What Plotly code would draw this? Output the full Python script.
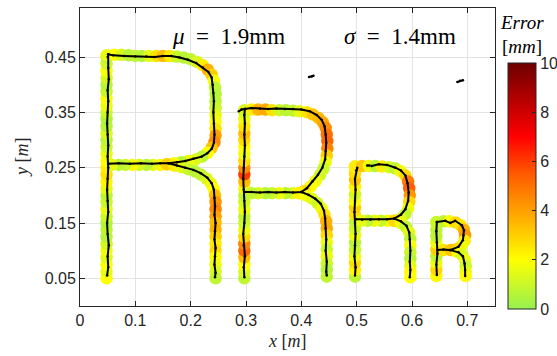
import plotly.graph_objects as go

# ---------------- colour scale (tracking error, mm) ----------------
ERR_RANGE = [0, 10]
CBAR_TICKS = [0, 2, 4, 6, 8, 10]
COLORSCALE = [[0.0, '#96F050'], [0.2, '#FFFF00'], [0.4, '#FFA000'],
              [0.55, '#FF5A00'], [0.7, '#FF0000'], [1.0, '#6E0000']]

# ---------------- axes ----------------
X_TICKS = [0, 0.1, 0.2, 0.3, 0.4, 0.5, 0.6, 0.7]
X_TICKTEXT = ['0', '0.1', '0.2', '0.3', '0.4', '0.5', '0.6', '0.7']
Y_TICKS = [0.05, 0.15, 0.25, 0.35, 0.45]
Y_TICKTEXT = ['0.05', '0.15', '0.25', '0.35', '0.45']

MU_TEXT = '<i>μ</i>\u2002=\u20021.9mm'
SIGMA_TEXT = '<i>σ</i>\u2002=\u20021.4mm'

# ---------------- reference path (ribbon) with error values ----------------
# Letter 1 (big R)
r1_stem_x = 0.048
r1_stem_y = [0.05, 0.062, 0.075, 0.088, 0.10, 0.112, 0.125, 0.138, 0.15, 0.162, 0.175, 0.188, 0.20,
             0.212, 0.225, 0.238, 0.25, 0.262, 0.275, 0.288, 0.30, 0.312, 0.325, 0.338, 0.35, 0.362,
             0.375, 0.388, 0.40, 0.412, 0.425, 0.438, 0.45]
r1_stem_err = [2.0, 1.6, 2.0, 1.4, 1.8, 1.2, 0.6, 0.8, 0.5, 1.0, 1.6, 1.0, 0.7, 1.5, 2.2, 2.6, 2.4,
               2.0, 1.6, 1.1, 0.8, 1.3, 0.6, 0.5, 1.0, 1.7, 1.9, 1.0, 0.6, 1.2, 1.9, 1.1, 0.7]

r1_bowl_x = [0.048, 0.062, 0.075, 0.088, 0.100, 0.112, 0.125, 0.138, 0.150, 0.162, 0.175, 0.188,
             0.200, 0.212, 0.222, 0.231, 0.238, 0.242, 0.244, 0.245, 0.245, 0.245, 0.245, 0.245,
             0.245, 0.245, 0.243, 0.238, 0.231, 0.221, 0.209, 0.196, 0.183, 0.170, 0.157, 0.145,
             0.132, 0.120, 0.107, 0.095, 0.082, 0.070, 0.058]
r1_bowl_y = [0.453, 0.454, 0.454, 0.453, 0.452, 0.452, 0.452, 0.452, 0.452, 0.452, 0.451, 0.449,
             0.446, 0.441, 0.435, 0.427, 0.418, 0.407, 0.395, 0.383, 0.370, 0.358, 0.345, 0.333,
             0.320, 0.308, 0.296, 0.286, 0.277, 0.270, 0.265, 0.262, 0.260, 0.258, 0.256, 0.255,
             0.255, 0.255, 0.255, 0.255, 0.255, 0.255, 0.255]
r1_bowl_err = [1.6, 2.0, 1.3, 0.6, 0.8, 0.6, 1.5, 2.6, 3.4, 2.4, 1.0, 0.6, 0.8, 1.3, 2.4, 3.6, 3.0,
               1.8, 0.8, 0.6, 0.7, 1.0, 1.5, 1.9, 2.6, 4.0, 4.5, 3.2, 2.0, 0.8, 1.3, 1.7, 0.7, 1.8,
               3.0, 2.2, 1.5, 0.7, 1.2, 1.9, 1.0, 0.7, 1.5]

r1_leg_x = [0.157, 0.170, 0.183, 0.196, 0.208, 0.219, 0.229, 0.237, 0.242, 0.244, 0.245, 0.245,
            0.245, 0.245, 0.245, 0.245, 0.245, 0.245, 0.245, 0.245, 0.245, 0.245]
r1_leg_y = [0.256, 0.254, 0.251, 0.247, 0.243, 0.237, 0.230, 0.221, 0.211, 0.200, 0.188, 0.175,
            0.162, 0.150, 0.138, 0.125, 0.112, 0.100, 0.088, 0.075, 0.062, 0.050]
r1_leg_err = [3.0, 2.4, 1.5, 1.0, 0.6, 0.8, 1.3, 1.7, 2.0, 3.4, 4.2, 4.6, 4.0, 3.4, 3.6, 3.0, 2.4,
              2.8, 2.0, 1.7, 1.3, 0.8]

# Letter 2
r2_stem_x = 0.297
r2_stem_y = [0.05, 0.062, 0.075, 0.088, 0.10, 0.112, 0.125, 0.138, 0.15, 0.162, 0.175, 0.188, 0.20,
             0.212, 0.225, 0.238, 0.25, 0.262, 0.275, 0.288, 0.30, 0.312, 0.325, 0.338, 0.35]
r2_stem_err = [0.8, 1.3, 2.0, 3.4, 5.2, 4.6, 2.8, 1.7, 1.1, 0.8, 1.7, 1.2, 0.8, 1.7, 3.4, 6.0, 4.4,
               2.7, 1.7, 2.0, 2.7, 3.4, 2.5, 1.7, 1.2]

r2_bowl_x = [0.297, 0.310, 0.322, 0.335, 0.347, 0.360, 0.372, 0.385, 0.397, 0.410, 0.421, 0.431,
             0.439, 0.444, 0.446, 0.447, 0.447, 0.446, 0.444, 0.440, 0.434, 0.426, 0.417, 0.406,
             0.396, 0.384, 0.372, 0.360, 0.347, 0.335, 0.322, 0.310]
r2_bowl_y = [0.354, 0.355, 0.355, 0.355, 0.354, 0.354, 0.354, 0.353, 0.352, 0.350, 0.346, 0.340,
             0.332, 0.322, 0.310, 0.298, 0.285, 0.272, 0.260, 0.248, 0.237, 0.226, 0.216, 0.208,
             0.204, 0.204, 0.204, 0.204, 0.204, 0.204, 0.204, 0.204]
r2_bowl_err = [1.2, 2.4, 3.6, 3.8, 2.6, 1.1, 0.7, 0.8, 1.5, 2.6, 3.2, 3.4, 3.8, 4.4, 5.0, 5.2, 4.6,
               3.0, 1.7, 1.0, 1.1, 1.7, 2.0, 2.7, 2.3, 1.5, 0.8, 1.7, 1.0, 0.6, 1.3, 0.8]

r2_leg_x = [0.396, 0.408, 0.419, 0.429, 0.437, 0.442, 0.445, 0.446, 0.446, 0.446, 0.446, 0.446,
            0.446, 0.446, 0.446]
r2_leg_y = [0.204, 0.200, 0.194, 0.186, 0.176, 0.165, 0.153, 0.140, 0.128, 0.115, 0.102, 0.090,
            0.077, 0.065, 0.053]
r2_leg_err = [2.3, 1.9, 1.5, 1.1, 1.7, 2.6, 3.6, 3.8, 2.8, 1.7, 1.0, 1.7, 1.1, 0.6, 0.8]

# Letter 3
r3_stem_x = 0.497
r3_stem_y = [0.053, 0.065, 0.078, 0.090, 0.102, 0.115, 0.128, 0.140, 0.152, 0.165, 0.178, 0.190,
             0.202, 0.215, 0.228, 0.240, 0.252]
r3_stem_err = [0.8, 2.2, 2.7, 1.7, 1.0, 0.7, 1.7, 1.1, 0.8, 2.6, 3.0, 1.9, 1.2, 2.2, 3.2, 2.7, 2.4]

r3_bowl_x = [0.497, 0.510, 0.522, 0.534, 0.546, 0.558, 0.569, 0.579, 0.588, 0.593, 0.595, 0.596,
             0.595, 0.593, 0.588, 0.580, 0.568, 0.556, 0.544, 0.532, 0.520, 0.508]
r3_bowl_y = [0.252, 0.253, 0.253, 0.253, 0.252, 0.251, 0.249, 0.244, 0.236, 0.225, 0.213, 0.200,
             0.188, 0.176, 0.166, 0.158, 0.154, 0.154, 0.154, 0.154, 0.154, 0.154]
r3_bowl_err = [2.4, 3.2, 1.7, 0.7, 2.4, 1.3, 0.8, 1.7, 2.8, 4.8, 5.4, 4.2, 2.8, 1.7, 0.8, 1.3, 2.8,
               2.1, 1.0, 1.7, 0.8, 1.5]

r3_leg_x = [0.568, 0.580, 0.589, 0.595, 0.597, 0.597, 0.597, 0.597, 0.597, 0.597, 0.597]
r3_leg_y = [0.154, 0.150, 0.143, 0.133, 0.121, 0.109, 0.097, 0.085, 0.073, 0.062, 0.052]
r3_leg_err = [2.8, 1.7, 0.8, 1.5, 0.8, 1.9, 1.0, 0.6, 1.5, 2.1, 2.0]

# Letter 4 (small R)
r4_stem_x = 0.644
r4_stem_y = [0.054, 0.066, 0.078, 0.090, 0.102, 0.114, 0.126, 0.138, 0.150]
r4_stem_err = [2.1, 2.8, 1.7, 0.8, 3.0, 1.7, 0.8, 0.7, 1.0]

r4_bowl_x = [0.644, 0.657, 0.668, 0.679, 0.688, 0.694, 0.696, 0.695, 0.690, 0.681, 0.670, 0.657]
r4_bowl_y = [0.152, 0.153, 0.153, 0.151, 0.146, 0.138, 0.128, 0.118, 0.109, 0.103, 0.101, 0.101]
r4_bowl_err = [1.0, 0.8, 1.9, 2.8, 2.4, 3.6, 4.2, 2.4, 1.7, 2.8, 3.2, 2.6]

r4_leg_x = [0.670, 0.682, 0.691, 0.696, 0.697, 0.697, 0.697]
r4_leg_y = [0.101, 0.098, 0.092, 0.083, 0.072, 0.062, 0.054]
r4_leg_err = [3.2, 1.9, 1.3, 1.7, 1.0, 1.5, 2.1]

# ---------------- measured trajectory (black) ----------------
t1_stem_x = [0.049, 0.051, 0.050, 0.052, 0.050, 0.049, 0.051, 0.050, 0.049, 0.050, 0.051, 0.050,
             0.051, 0.050, 0.049, 0.050, 0.051, 0.050, 0.052, 0.051, 0.050, 0.051]
t1_stem_y = [0.055, 0.07, 0.09, 0.11, 0.13, 0.15, 0.17, 0.19, 0.21, 0.23, 0.25, 0.27, 0.29, 0.31,
             0.33, 0.35, 0.37, 0.39, 0.41, 0.43, 0.45, 0.455]
t1_bowl_x = [0.051, 0.06, 0.08, 0.10, 0.12, 0.135, 0.15, 0.165, 0.18, 0.195, 0.21, 0.222, 0.232,
             0.238, 0.240, 0.241, 0.242, 0.241, 0.242, 0.243, 0.242, 0.238, 0.230, 0.220, 0.205,
             0.190, 0.175, 0.16, 0.145, 0.13, 0.11, 0.09, 0.07, 0.052]
t1_bowl_y = [0.455, 0.453, 0.452, 0.451, 0.451, 0.450, 0.452, 0.452, 0.449, 0.445, 0.439, 0.431,
             0.423, 0.413, 0.40, 0.385, 0.37, 0.35, 0.33, 0.31, 0.295, 0.284, 0.276, 0.27, 0.266,
             0.262, 0.26, 0.258, 0.258, 0.257, 0.258, 0.257, 0.258, 0.257]
t1_leg_x = [0.16, 0.175, 0.19, 0.205, 0.218, 0.23, 0.238, 0.242, 0.243, 0.244, 0.243, 0.245, 0.244,
            0.243, 0.245, 0.244, 0.243, 0.245, 0.244]
t1_leg_y = [0.258, 0.254, 0.25, 0.246, 0.24, 0.232, 0.222, 0.21, 0.195, 0.18, 0.165, 0.15, 0.135,
            0.12, 0.105, 0.09, 0.075, 0.06, 0.052]

t2_stem_x = [0.297, 0.296, 0.298, 0.296, 0.295, 0.297, 0.298, 0.297, 0.296, 0.295, 0.296, 0.297,
             0.298, 0.297, 0.298, 0.297, 0.298, 0.292, 0.287]
t2_stem_y = [0.052, 0.07, 0.09, 0.11, 0.13, 0.15, 0.17, 0.19, 0.21, 0.23, 0.25, 0.27, 0.29, 0.31,
             0.33, 0.345, 0.356, 0.355, 0.352]
t2_bowl_x = [0.298, 0.31, 0.325, 0.34, 0.355, 0.37, 0.385, 0.40, 0.415, 0.428, 0.437, 0.442, 0.444,
             0.445, 0.444, 0.443, 0.438, 0.43, 0.42, 0.41, 0.40, 0.385, 0.37, 0.355, 0.34, 0.325,
             0.31, 0.298]
t2_bowl_y = [0.356, 0.358, 0.357, 0.356, 0.357, 0.356, 0.356, 0.355, 0.352, 0.345, 0.336, 0.325,
             0.31, 0.295, 0.28, 0.265, 0.25, 0.237, 0.225, 0.213, 0.206, 0.205, 0.206, 0.205, 0.206,
             0.205, 0.206, 0.206]
t2_leg_x = [0.40, 0.413, 0.425, 0.435, 0.441, 0.443, 0.444, 0.445, 0.444, 0.446, 0.445, 0.446]
t2_leg_y = [0.206, 0.201, 0.194, 0.185, 0.172, 0.158, 0.14, 0.12, 0.10, 0.08, 0.062, 0.055]

t3_stem_x = [0.497, 0.498, 0.496, 0.497, 0.498, 0.497, 0.496, 0.497, 0.498, 0.497, 0.499, 0.501]
t3_stem_y = [0.055, 0.07, 0.09, 0.11, 0.13, 0.15, 0.17, 0.19, 0.21, 0.23, 0.245, 0.25]
t3_dot_x = [0.519, 0.523]
t3_dot_y = [0.254, 0.254]
t3_bowl_x = [0.527, 0.54, 0.555, 0.57, 0.58, 0.588, 0.592, 0.594, 0.593, 0.588, 0.58, 0.568, 0.555,
             0.54, 0.525, 0.51, 0.499]
t3_bowl_y = [0.253, 0.256, 0.255, 0.25, 0.245, 0.236, 0.222, 0.205, 0.19, 0.175, 0.165, 0.158,
             0.157, 0.157, 0.156, 0.156, 0.157]
t3_leg_x = [0.568, 0.58, 0.59, 0.595, 0.596, 0.597, 0.596, 0.597, 0.596]
t3_leg_y = [0.158, 0.153, 0.145, 0.133, 0.12, 0.10, 0.08, 0.065, 0.052]

t4_stem_x = [0.645, 0.644, 0.646, 0.645, 0.644, 0.645]
t4_stem_y = [0.056, 0.075, 0.095, 0.115, 0.135, 0.152]
t4_bowl_x = [0.645, 0.66, 0.669, 0.678, 0.69, 0.694, 0.693, 0.692, 0.684, 0.669, 0.657, 0.646]
t4_bowl_y = [0.152, 0.154, 0.150, 0.154, 0.146, 0.137, 0.128, 0.119, 0.107, 0.101, 0.102, 0.101]
t4_leg_x = [0.669, 0.684, 0.692, 0.695, 0.696, 0.696]
t4_leg_y = [0.101, 0.097, 0.09, 0.077, 0.065, 0.054]

blob1_x = [0.414, 0.419, 0.422]
blob1_y = [0.414, 0.415, 0.416]
blob2_x = [0.682, 0.687, 0.692]
blob2_y = [0.405, 0.407, 0.408]

# ---------------- assemble ----------------
ribbon_strokes = [
    (r1_stem_x, r1_stem_y, r1_stem_err), (r1_bowl_x, r1_bowl_y, r1_bowl_err), (r1_leg_x, r1_leg_y, r1_leg_err),
    (r2_stem_x, r2_stem_y, r2_stem_err), (r2_bowl_x, r2_bowl_y, r2_bowl_err), (r2_leg_x, r2_leg_y, r2_leg_err),
    (r3_stem_x, r3_stem_y, r3_stem_err), (r3_bowl_x, r3_bowl_y, r3_bowl_err), (r3_leg_x, r3_leg_y, r3_leg_err),
    (r4_stem_x, r4_stem_y, r4_stem_err), (r4_bowl_x, r4_bowl_y, r4_bowl_err), (r4_leg_x, r4_leg_y, r4_leg_err),
]
rx, ry, rc = [], [], []
bx, by = [], []
for xs, ys, es in ribbon_strokes:
    if not isinstance(xs, list):
        xs = [xs] * len(ys)
    rx += xs
    ry += ys
    rc += es
    bx += xs + [None]
    by += ys + [None]

traj_strokes = [
    (t1_stem_x, t1_stem_y), (t1_bowl_x, t1_bowl_y), (t1_leg_x, t1_leg_y),
    (t2_stem_x, t2_stem_y), (t2_bowl_x, t2_bowl_y), (t2_leg_x, t2_leg_y),
    (t3_stem_x, t3_stem_y), (t3_dot_x, t3_dot_y), (t3_bowl_x, t3_bowl_y), (t3_leg_x, t3_leg_y),
    (t4_stem_x, t4_stem_y), (t4_bowl_x, t4_bowl_y), (t4_leg_x, t4_leg_y),
    (blob1_x, blob1_y), (blob2_x, blob2_y),
]
tx, ty = [], []
for xs, ys in traj_strokes:
    tx += xs + [None]
    ty += ys + [None]

AX_COLOR = '#262626'
TICK_FONT = dict(family='Liberation Sans, Arial, sans-serif', size=16, color=AX_COLOR)
MATH_FONT = 'Liberation Serif, Times New Roman, serif'

fig = go.Figure()
# base band under the coloured circles (fills the small notches between them)
fig.add_trace(go.Scatter(
    x=bx, y=by, mode='lines', hoverinfo='skip', connectgaps=False,
    line=dict(color='#D2F03C', width=10)))
fig.add_trace(go.Scatter(
    x=rx, y=ry, mode='markers', hoverinfo='skip',
    marker=dict(size=12.5, color=rc, colorscale=COLORSCALE, cmin=ERR_RANGE[0], cmax=ERR_RANGE[1],
                line=dict(width=0),
                colorbar=dict(x=1.031, xanchor='left', xpad=0, ypad=0, thickness=28,
                              thicknessmode='pixels', len=246, lenmode='pixels',
                              y=-0.01, yanchor='bottom', outlinecolor=AX_COLOR, outlinewidth=1,
                              tickvals=CBAR_TICKS, ticks='inside', ticklen=4, tickcolor=AX_COLOR,
                              tickfont=TICK_FONT))))
fig.add_trace(go.Scatter(
    x=tx, y=ty, mode='lines+markers', hoverinfo='skip', connectgaps=False,
    line=dict(color='black', width=2), marker=dict(color='black', size=2.5)))

axis_common = dict(showgrid=True, gridcolor='#E3E3E3', gridwidth=1, zeroline=False,
                   showline=True, linecolor=AX_COLOR, linewidth=1, mirror='ticks',
                   ticks='inside', ticklen=5, tickcolor=AX_COLOR, tickfont=TICK_FONT)
fig.update_xaxes(range=[0, 0.75], tickvals=X_TICKS, ticktext=X_TICKTEXT, **axis_common)
fig.update_yaxes(range=[0, 0.5386], tickvals=Y_TICKS, ticktext=Y_TICKTEXT, **axis_common)

ann = [
    dict(x=0.268, y=0.488, xref='x', yref='y', text=MU_TEXT, showarrow=False, xanchor='center',
         font=dict(family=MATH_FONT, size=23, color='black')),
    dict(x=0.578, y=0.488, xref='x', yref='y', text=SIGMA_TEXT, showarrow=False, xanchor='center',
         font=dict(family=MATH_FONT, size=23, color='black')),
    dict(x=0.5, y=-0.117, xref='paper', yref='paper', text='<i>x</i> [<i>m</i>]', showarrow=False,
         xanchor='center', yanchor='middle', font=dict(family=MATH_FONT, size=18, color=AX_COLOR)),
    dict(x=-0.14, y=0.5, xref='paper', yref='paper', text='<i>y</i> [<i>m</i>]', showarrow=False,
         textangle=-90, xanchor='center', yanchor='middle',
         font=dict(family=MATH_FONT, size=18, color=AX_COLOR)),
    dict(x=1.065, y=0.953, xref='paper', yref='paper', text='<i>Error</i>', showarrow=False,
         xanchor='center', yanchor='middle', font=dict(family=MATH_FONT, size=19, color='black')),
    dict(x=1.065, y=0.872, xref='paper', yref='paper', text='[<i>mm</i>]', showarrow=False,
         xanchor='center', yanchor='middle', font=dict(family=MATH_FONT, size=19, color='black')),
]
fig.update_layout(width=557, height=356, margin=dict(l=80, r=62, t=8, b=50, autoexpand=False),
                  plot_bgcolor='white', paper_bgcolor='white', showlegend=False,
                  annotations=ann)
fig.write_html('out.html', config={'displayModeBar': False},
               post_script="document.body.style.margin='0px';document.body.style.padding='0px';"
                           "document.body.style.overflow='hidden';")
